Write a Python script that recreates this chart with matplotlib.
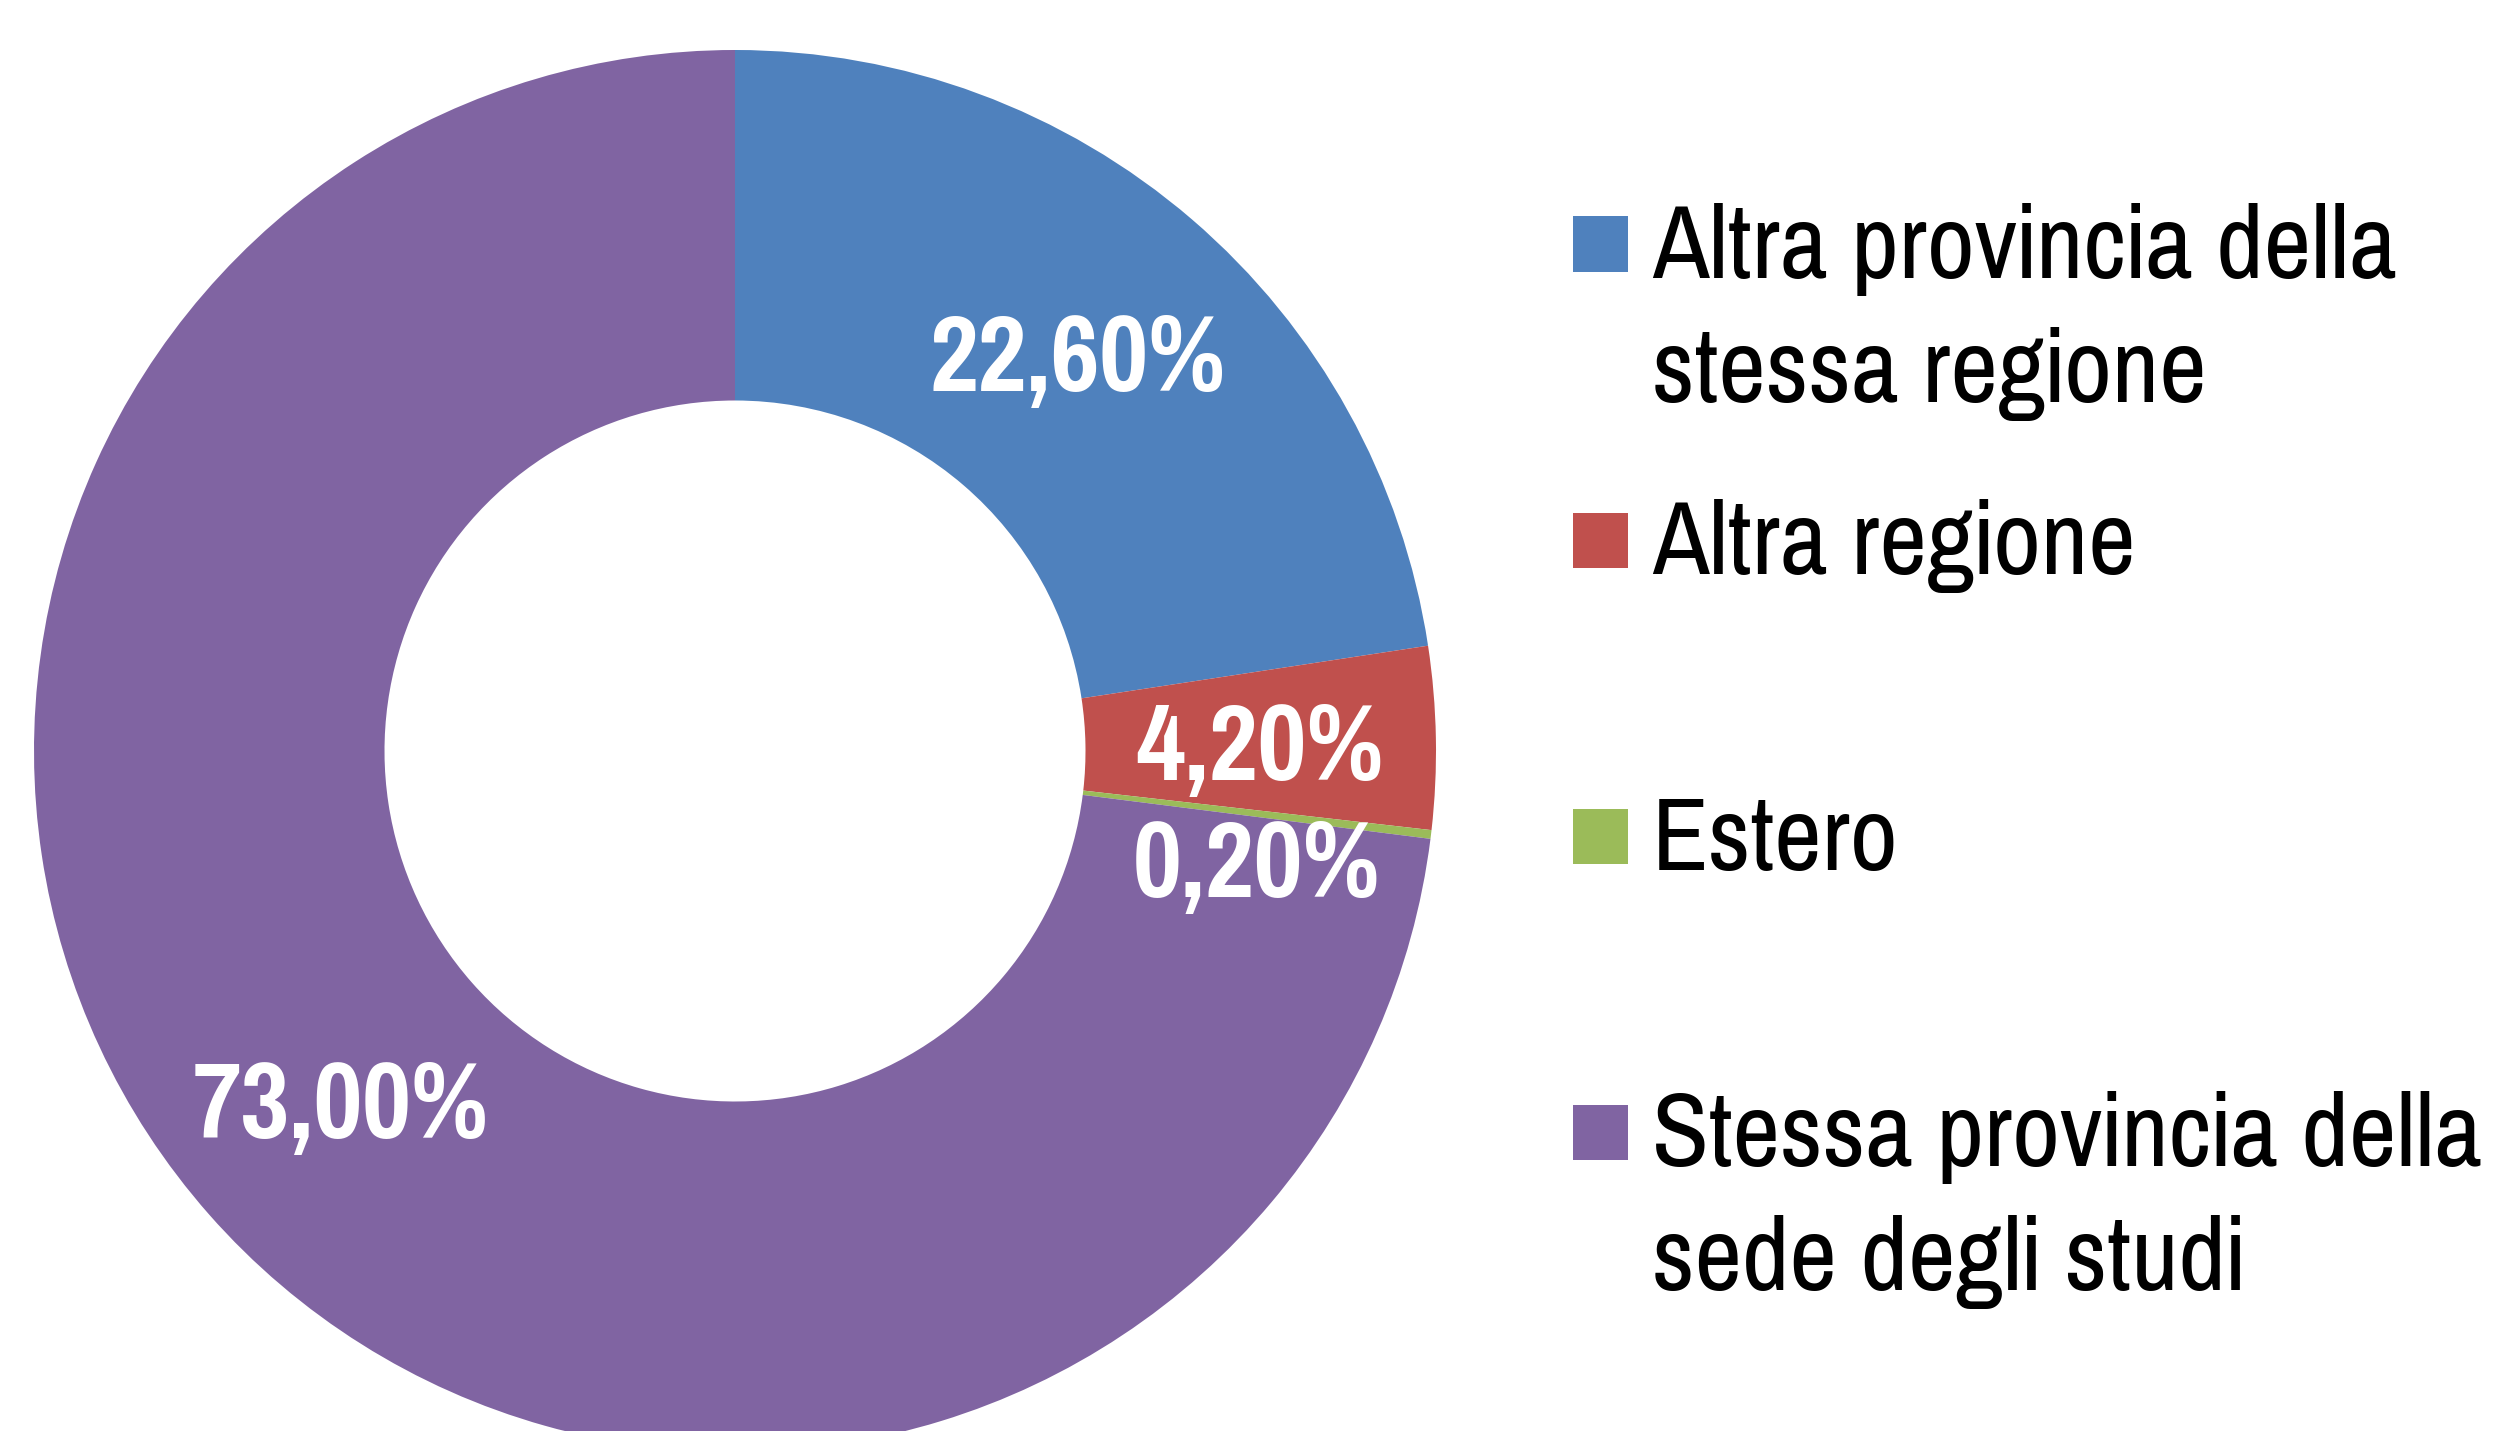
import matplotlib
matplotlib.use("Agg")
import matplotlib.pyplot as plt
from matplotlib import font_manager
from matplotlib.font_manager import FontProperties
from matplotlib.patches import Rectangle

# data
categories = ["Altra provincia della\nstessa regione", "Altra regione", "Estero",
              "Stessa provincia della\nsede degli studi"]
shares = [22.6, 4.2, 0.2, 73.0]
colors = ["#4F81BD", "#C0504D", "#9BBB59", "#8064A2"]

W, H = 2515, 1431
names = {f.name for f in font_manager.fontManager.ttflist}
font = "Liberation Sans"
for cand in ["Liberation Sans Narrow", "Arial Narrow", "Nimbus Sans Narrow",
             "Pragati Narrow", "Archivo Narrow", "Roboto Condensed"]:
    if cand in names:
        font = cand
        break
plt.rcParams["font.family"] = [font, "DejaVu Sans"]

fig = plt.figure(figsize=(W / 100, H / 100), dpi=100)
renderer = fig.canvas.get_renderer()


def measure(s, size, weight="normal"):
    fp = FontProperties(family=[font, "DejaVu Sans"], size=size, weight=weight)
    return renderer.get_text_width_height_descent(s, fp, ismath=False)


# pick font sizes from the cap / digit height seen in the reference
leg_size = 100 * 76 / measure("H", 100)[1]
w = measure("Stessa provincia della", leg_size)[0]
if w > 830:
    leg_size *= 830 / w
lab_size = 100 * 76 / measure("0", 100, "bold")[1]
w = measure("22,60%", lab_size, "bold")[0]
if w > 300:
    lab_size *= 300 / w

# pie centre and radius in pixels
cx, cy, r = 735, 751, 701
ax = fig.add_axes([(cx - r) / W, (H - cy - r) / H, 2 * r / W, 2 * r / H])


def fmt(p):
    return f"{p:.2f}%".replace(".", ",")


wedges, texts, autotexts = ax.pie(
    shares, colors=colors, startangle=90, counterclock=False,
    autopct=fmt, pctdistance=0.75,
    wedgeprops=dict(width=0.5, linewidth=0),
    textprops=dict(color="white", fontsize=lab_size, fontweight="bold"),
)
for t in autotexts:
    t.set_va("center_baseline")
# small slice label sits a bit lower
x0, y0 = autotexts[2].get_position()
autotexts[2].set_position((x0, y0 - 0.063))

ax.set_xlim(-1, 1)
ax.set_ylim(-1, 1)
ax.set_aspect("equal")
ax.axis("off")

# legend drawn by hand, Excel style (marker next to first line)
step = 124
_, lp_h, lp_d = measure("lp", leg_size)
ls = (step - lp_d) / (lp_h - lp_d)
mx, msize, tx = 1573, 55, 1652
ys = [244, 540, 836, 1132]
for lab, col, yc in zip(categories, colors, ys):
    fig.add_artist(Rectangle((mx / W, (H - yc - msize / 2) / H), msize / W, msize / H,
                             transform=fig.transFigure, facecolor=col, edgecolor="none"))
    nl = lab.count("\n")
    base = yc + 34 + nl * step  # baseline of the last line
    fig.text(tx / W, (H - base) / H, lab, fontsize=leg_size, color="black",
             ha="left", va="baseline", linespacing=ls)

fig.savefig("out.png", dpi=100)
